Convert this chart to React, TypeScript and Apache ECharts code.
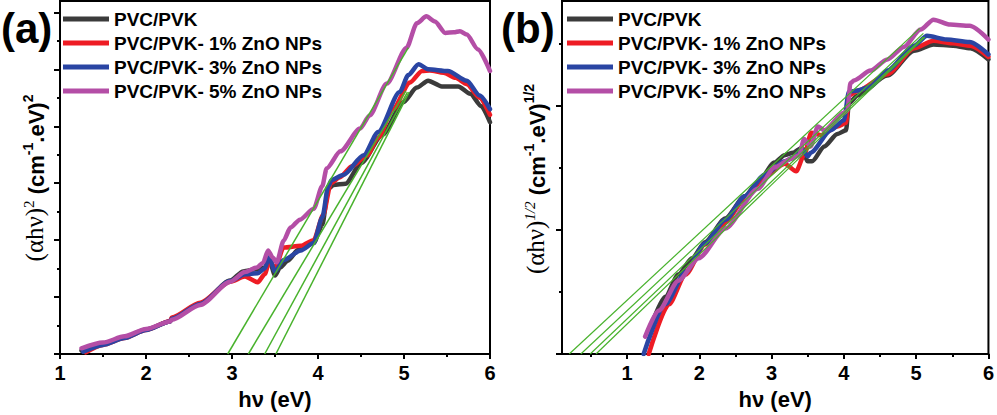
import React, { useEffect, useRef } from 'react';
import * as echarts from 'echarts';

const seriesNames = ['PVC/PVK', 'PVC/PVK- 1% ZnO NPs', 'PVC/PVK- 3% ZnO NPs', 'PVC/PVK- 5% ZnO NPs'];
const seriesColors = ['#3b3b3b', '#ee1c24', '#2a45a3', '#b44ea6'];
const fitColor = '#48b22c';

// ---- Panel (a): (alpha h nu)^2 vs h nu ----
const aBlackX = [1.25, 1.5, 1.75, 2.0, 2.28, 2.3, 2.63, 2.98, 3.13, 3.29, 3.38, 3.44, 3.5, 3.56, 3.65, 3.77, 3.95, 4.05, 4.12, 4.18, 4.32, 4.5, 4.75, 4.99, 5.15, 5.28, 5.44, 5.63, 5.77, 5.9, 6.0];
const aBlackY = [0.06, 0.18, 0.29, 0.43, 0.57, 0.63, 0.88, 1.29, 1.45, 1.49, 1.52, 1.62, 1.38, 1.52, 1.64, 1.83, 1.95, 2.27, 2.9, 2.97, 2.99, 3.35, 3.85, 4.42, 4.68, 4.8, 4.7, 4.7, 4.57, 4.35, 4.07];
const aRedX = [1.3, 1.5, 1.75, 2.0, 2.28, 2.3, 2.63, 2.98, 3.15, 3.3, 3.38, 3.44, 3.5, 3.6, 3.8, 3.95, 4.06, 4.15, 4.25, 4.4, 4.57, 4.7, 4.87, 5.07, 5.21, 5.3, 5.46, 5.6, 5.73, 5.88, 6.0];
const aRedY = [0.03, 0.16, 0.28, 0.42, 0.58, 0.64, 0.9, 1.27, 1.36, 1.26, 1.4, 1.65, 1.5, 1.87, 1.9, 2.0, 2.44, 3.0, 3.1, 3.3, 3.49, 3.8, 4.3, 4.77, 4.97, 4.98, 4.94, 4.85, 4.74, 4.5, 4.2];
const aBlueX = [1.27, 1.5, 1.75, 2.0, 2.28, 2.3, 2.63, 2.98, 3.15, 3.3, 3.38, 3.43, 3.5, 3.6, 3.8, 3.95, 4.05, 4.12, 4.16, 4.3, 4.53, 4.7, 4.95, 5.05, 5.17, 5.28, 5.51, 5.73, 5.88, 6.0];
const aBlueY = [0.04, 0.16, 0.28, 0.42, 0.57, 0.62, 0.88, 1.28, 1.4, 1.42, 1.5, 1.7, 1.45, 1.65, 1.82, 1.95, 2.4, 2.95, 3.06, 3.15, 3.49, 3.9, 4.6, 4.9, 5.09, 5.0, 4.97, 4.8, 4.54, 4.3];
const aMagX = [1.25, 1.5, 1.75, 2.0, 2.28, 2.3, 2.63, 2.98, 3.15, 3.29, 3.36, 3.42, 3.47, 3.52, 3.6, 3.68, 3.79, 3.95, 4.05, 4.1, 4.26, 4.49, 4.6, 4.8, 5.03, 5.15, 5.26, 5.36, 5.48, 5.58, 5.65, 5.73, 5.86, 6.0];
const aMagY = [0.1, 0.2, 0.31, 0.44, 0.57, 0.6, 0.86, 1.27, 1.44, 1.52, 1.6, 1.82, 1.7, 1.61, 1.99, 2.22, 2.36, 2.55, 2.95, 3.26, 3.56, 3.96, 4.19, 4.75, 5.38, 5.81, 5.93, 5.84, 5.64, 5.65, 5.67, 5.61, 5.35, 4.97];
const aFitX0 = [2.95, 3.19, 3.38, 3.51];
const aFitX1 = [5.05, 5.02, 5.04, 5.06];
const aFitY1 = [5.38, 4.62, 4.6, 4.6];

// ---- Panel (b): (alpha h nu)^(1/2) vs h nu ----
const bBlackX = [1.33, 1.53, 1.71, 1.9, 2.08, 2.36, 2.63, 2.81, 3.04, 3.18, 3.3, 3.42, 3.5, 3.56, 3.73, 3.91, 4.03, 4.07, 4.19, 4.6, 4.97, 5.24, 5.51, 5.75, 6.0];
const bBlackY = [0.22, 0.46, 0.64, 0.77, 0.9, 1.09, 1.27, 1.38, 1.54, 1.6, 1.62, 1.66, 1.55, 1.55, 1.67, 1.77, 1.8, 2.02, 2.08, 2.24, 2.44, 2.49, 2.48, 2.46, 2.37];
const bRedX = [1.3, 1.58, 1.81, 2.08, 2.3, 2.36, 2.63, 2.9, 3.18, 3.34, 3.45, 3.55, 3.68, 3.91, 4.03, 4.07, 4.2, 4.6, 4.97, 5.24, 5.5, 5.75, 6.0];
const bRedY = [0.0, 0.4, 0.64, 0.88, 1.0, 1.06, 1.25, 1.42, 1.53, 1.47, 1.6, 1.78, 1.76, 1.83, 1.86, 2.08, 2.12, 2.25, 2.46, 2.52, 2.5, 2.48, 2.39];
const bBlueX = [1.23, 1.53, 1.81, 2.08, 2.36, 2.63, 2.9, 3.18, 3.3, 3.42, 3.5, 3.54, 3.82, 4.0, 4.07, 4.19, 4.36, 4.6, 4.97, 5.15, 5.42, 5.74, 6.0];
const bBlueY = [0.0, 0.4, 0.66, 0.89, 1.08, 1.27, 1.44, 1.55, 1.58, 1.65, 1.59, 1.62, 1.8, 1.88, 2.11, 2.12, 2.15, 2.28, 2.48, 2.56, 2.53, 2.51, 2.41];
const bMagX = [1.25, 1.44, 1.71, 1.99, 2.36, 2.81, 3.04, 3.27, 3.38, 3.45, 3.54, 3.64, 3.73, 4.0, 4.05, 4.09, 4.14, 4.37, 4.6, 4.83, 5.06, 5.24, 5.47, 5.74, 6.0];
const bMagY = [0.14, 0.35, 0.59, 0.77, 1.01, 1.33, 1.5, 1.57, 1.6, 1.73, 1.67, 1.83, 1.8, 1.94, 1.96, 2.18, 2.2, 2.28, 2.37, 2.47, 2.61, 2.69, 2.65, 2.64, 2.53];
const bFitX0 = [0.2, 0.36, 0.49, 0.57];
const bFitX1 = [5.05, 5.1, 5.1, 5.12];
const bFitY1 = [2.62, 2.58, 2.55, 2.55];

// ---- Ticks ----
const aXTicks = [1, 2, 3, 4, 5, 6];
const aXMinor = [1.5, 2.5, 3.5, 4.5, 5.5];
const bXTicks = [1, 2, 3, 4, 5, 6];
const bXMinor = [0.5, 1.5, 2.5, 3.5, 4.5, 5.5];
const aYTicks = [0, 1, 2, 3, 4, 5, 6];
const aYMinor = [0.5, 1.5, 2.5, 3.5, 4.5, 5.5];
const bYTicks = [0, 1, 2];
const bYMinor = [0.5, 1.5, 2.5];

const SANS = '"Liberation Sans", Arial, sans-serif';
const SERIF = '"Liberation Serif", "Times New Roman", serif';

function zip(xs: number[], ys: number[]) {
  return xs.map((x, i) => [x, ys[i]]);
}

export default function App() {
  const ref = useRef<HTMLDivElement>(null);
  useEffect(() => {
    if (!ref.current) return;
    const chart = echarts.init(ref.current, undefined, { renderer: 'svg' });

    const xAxisPair = (grid: number, min: number, max: number, ticks: number[], minor: number[]) => [
      {
        type: 'value', gridIndex: grid, min, max, position: 'bottom',
        axisLine: { show: true, onZero: false, lineStyle: { color: '#000', width: 2 } },
        axisTick: { show: true, length: 5, inside: false, customValues: ticks, lineStyle: { color: '#000', width: 2 } },
        axisLabel: { show: true, customValues: ticks, margin: 9, fontSize: 20, fontWeight: 'bold', color: '#000', fontFamily: SANS },
        splitLine: { show: false },
        name: 'hν (eV)', nameLocation: 'middle', nameGap: 34,
        nameTextStyle: { fontSize: 22, fontWeight: 'bold', color: '#000', fontFamily: SANS },
      },
      {
        type: 'value', gridIndex: grid, min, max, position: 'bottom',
        axisLine: { show: false, onZero: false },
        axisTick: { show: true, length: 3, customValues: minor, lineStyle: { color: '#000', width: 2 } },
        axisLabel: { show: false },
        splitLine: { show: false },
      },
    ];
    const yAxisPair = (grid: number, max: number, ticks: number[], minor: number[]) => [
      {
        type: 'value', gridIndex: grid, min: 0, max, position: 'left',
        axisLine: { show: true, onZero: false, lineStyle: { color: '#000', width: 2 } },
        axisTick: { show: true, length: 6, customValues: ticks, lineStyle: { color: '#000', width: 2 } },
        axisLabel: { show: false },
        splitLine: { show: false },
      },
      {
        type: 'value', gridIndex: grid, min: 0, max, position: 'left',
        axisLine: { show: false, onZero: false },
        axisTick: { show: true, length: 3, customValues: minor, lineStyle: { color: '#000', width: 2 } },
        axisLabel: { show: false },
        splitLine: { show: false },
      },
    ];

    const curve = (name: string, color: string, data: number[][], xi: number, yi: number) => ({
      type: 'line', name, data, xAxisIndex: xi, yAxisIndex: yi,
      showSymbol: false, symbol: 'none', smooth: 0.25, smoothMonotone: 'x',
      lineStyle: { color, width: 4.5, cap: 'round', join: 'round' },
      itemStyle: { color },
      z: 2,
    });
    const fit = (x0: number, x1: number, y1: number, xi: number, yi: number, w: number) => ({
      type: 'line', name: 'fit', data: [[x0, 0], [x1, y1]], xAxisIndex: xi, yAxisIndex: yi,
      showSymbol: false, symbol: 'none', silent: true,
      lineStyle: { color: fitColor, width: w },
      z: 3,
    });

    const aData = [zip(aBlackX, aBlackY), zip(aRedX, aRedY), zip(aBlueX, aBlueY), zip(aMagX, aMagY)];
    const bData = [zip(bBlackX, bBlackY), zip(bRedX, bRedY), zip(bBlueX, bBlueY), zip(bMagX, bMagY)];

    const series: any[] = [];
    aData.forEach((d, i) => series.push(curve(seriesNames[i], seriesColors[i], d, 0, 0)));
    aFitX0.forEach((x0, i) => series.push(fit(x0, aFitX1[i], aFitY1[i], 0, 0, 1.5)));
    bData.forEach((d, i) => series.push(curve(seriesNames[i], seriesColors[i], d, 2, 2)));
    bFitX0.forEach((x0, i) => series.push(fit(x0, bFitX1[i], bFitY1[i], 2, 2, 1.2)));

    const legendBase = {
      orient: 'vertical', top: 9, data: seriesNames, icon: 'rect',
      itemWidth: 46, itemHeight: 5, itemGap: 4, padding: 0, selectedMode: false,
      textStyle: { fontSize: 19, fontWeight: 'bold', color: '#000', fontFamily: SANS, lineHeight: 20 },
    };

    const yName = (x: number, y: number, half: boolean) => ({
      type: 'text', x, y, rotation: Math.PI / 2,
      style: {
        text: half
          ? '{s|(αhν)}{ss|1/2}{b| (cm}{bs|-1}{b|.eV)}{bs|1/2}'
          : '{s|(αhν)}{ss|2}{b| (cm}{bs|-1}{b|.eV)}{bs|2}',
        align: 'center', verticalAlign: 'middle',
        rich: {
          s: { fontFamily: SERIF, fontSize: 25, fill: '#000', lineHeight: 26, verticalAlign: 'bottom' },
          ss: { fontFamily: SERIF, fontSize: 15, fill: '#000', lineHeight: 14, verticalAlign: 'top', fontStyle: half ? 'italic' : 'normal' },
          b: { fontFamily: SANS, fontSize: 22, fontWeight: 'bold', fill: '#000', lineHeight: 26, verticalAlign: 'bottom' },
          bs: { fontFamily: SANS, fontSize: 14, fontWeight: 'bold', fill: '#000', lineHeight: 14, verticalAlign: 'top' },
        },
      },
    });

    chart.setOption({
      animation: false,
      backgroundColor: '#fff',
      grid: [
        { left: 60, top: 1, right: 507, bottom: 57, show: true, borderColor: '#000', borderWidth: 2, containLabel: false },
        { left: 562, top: 1, right: 5, bottom: 57, show: true, borderColor: '#000', borderWidth: 2, containLabel: false },
      ],
      xAxis: [...xAxisPair(0, 1, 6, aXTicks, aXMinor), ...xAxisPair(1, 0.1, 6, bXTicks, bXMinor)],
      yAxis: [...yAxisPair(0, 6.2, aYTicks, aYMinor), ...yAxisPair(1, 2.84, bYTicks, bYMinor)],
      legend: [
        { ...legendBase, left: 63 },
        { ...legendBase, left: 567 },
      ],
      series,
      graphic: [
        { type: 'text', left: 1, top: 7, style: { text: '(a)', fontSize: 42, fontWeight: 'bold', fontFamily: SANS, fill: '#000' } },
        { type: 'text', left: 501, top: 7, style: { text: '(b)', fontSize: 42, fontWeight: 'bold', fontFamily: SANS, fill: '#000' } },
        yName(34, 178, false),
        yName(535, 179, true),
      ],
    } as any);

    return () => chart.dispose();
  }, []);

  return <div ref={ref} style={{ position: 'absolute', left: 0, top: 0, width: 997, height: 415 }} />;
}
